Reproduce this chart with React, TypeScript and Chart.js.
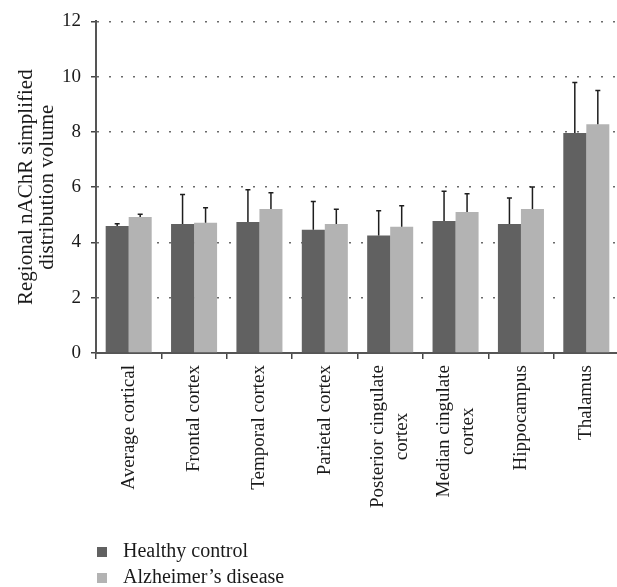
import React, { useEffect, useRef } from 'react';
import { Chart, registerables } from 'chart.js';

Chart.register(...registerables);

// ---- data ----
const categories: string[][] = [
  ['Average cortical'],
  ['Frontal cortex'],
  ['Temporal cortex'],
  ['Parietal cortex'],
  ['Posterior cingulate', 'cortex'],
  ['Median cingulate', 'cortex'],
  ['Hippocampus'],
  ['Thalamus'],
];
const seriesNames = ['Healthy control', 'Alzheimer\u2019s disease'];
const healthyValues = [4.6, 4.67, 4.74, 4.46, 4.25, 4.78, 4.67, 7.96];
const healthyErrors = [0.08, 1.07, 1.17, 1.02, 0.9, 1.07, 0.94, 1.83];
const alzheimerValues = [4.92, 4.71, 5.21, 4.67, 4.57, 5.1, 5.21, 8.28];
const alzheimerErrors = [0.1, 0.55, 0.59, 0.53, 0.76, 0.66, 0.8, 1.22];
const yTickValues = [0, 2, 4, 6, 8, 10, 12];
const yTitle = ['Regional nAChR simplified', 'distribution volume'];

const seriesColors = ['#616161', '#b3b3b3'];
const errorsBySeries = [healthyErrors, alzheimerErrors];
const FONT = '"Liberation Serif", "Times New Roman", serif';

const errorBarPlugin = {
  id: 'errorBars',
  afterDatasetsDraw(chart: any) {
    const ctx = chart.ctx;
    const ys = chart.scales.y;
    chart.data.datasets.forEach((ds: any, di: number) => {
      const meta = chart.getDatasetMeta(di);
      const errs = errorsBySeries[di];
      meta.data.forEach((bar: any, i: number) => {
        const v = ds.data[i] as number;
        const top = ys.getPixelForValue(v + errs[i]);
        ctx.save();
        ctx.strokeStyle = '#1e1e1e';
        ctx.lineWidth = 1.5;
        ctx.beginPath();
        ctx.moveTo(bar.x, bar.y);
        ctx.lineTo(bar.x, top);
        ctx.moveTo(bar.x - 2.5, top);
        ctx.lineTo(bar.x + 2.5, top);
        ctx.stroke();
        ctx.restore();
      });
    });
  },
};

const xLabelPlugin = {
  id: 'xLabels',
  afterDraw(chart: any) {
    const ctx = chart.ctx;
    const xs = chart.scales.x;
    ctx.save();
    ctx.font = `19px ${FONT}`;
    ctx.fillStyle = '#1a1a1a';
    ctx.textAlign = 'center';
    ctx.textBaseline = 'middle';
    const lineH = 24;
    const top = xs.top + 12;
    categories.forEach((lines, i) => {
      const cx = xs.getPixelForValue(i);
      const maxW = Math.max(...lines.map((l) => ctx.measureText(l).width));
      lines.forEach((l, j) => {
        const lx = cx + (j - (lines.length - 1) / 2) * lineH;
        ctx.save();
        ctx.translate(lx, top + maxW / 2);
        ctx.rotate(-Math.PI / 2);
        ctx.fillText(l, 0, 0);
        ctx.restore();
      });
    });
    ctx.restore();
  },
};

const legendPlugin = {
  id: 'stackedLegend',
  afterDraw(chart: any) {
    const ctx = chart.ctx;
    const rowY = [552, 578];
    ctx.save();
    ctx.font = `20px ${FONT}`;
    ctx.textAlign = 'left';
    ctx.textBaseline = 'middle';
    chart.data.datasets.forEach((ds: any, i: number) => {
      ctx.fillStyle = ds.backgroundColor;
      ctx.fillRect(97, rowY[i] - 5, 10, 10);
      ctx.fillStyle = '#1a1a1a';
      ctx.fillText(ds.label, 123, rowY[i]);
    });
    ctx.restore();
  },
};

export default function App() {
  const canvasRef = useRef<HTMLCanvasElement | null>(null);

  useEffect(() => {
    const canvas = canvasRef.current;
    if (!canvas) return;
    const chart = new Chart(canvas, {
      type: 'bar',
      data: {
        labels: categories.map((c) => c.join(' ')),
        datasets: [
          {
            label: seriesNames[0],
            data: healthyValues,
            backgroundColor: seriesColors[0],
            borderWidth: 0,
            categoryPercentage: 0.704,
            barPercentage: 1.0,
          },
          {
            label: seriesNames[1],
            data: alzheimerValues,
            backgroundColor: seriesColors[1],
            borderWidth: 0,
            categoryPercentage: 0.704,
            barPercentage: 1.0,
          },
        ],
      },
      options: {
        animation: false,
        responsive: false,
        devicePixelRatio: 1,
        layout: { padding: { top: 17, right: 1, bottom: 0, left: 0 } },
        plugins: {
          legend: { display: false },
          tooltip: { enabled: false },
        },
        scales: {
          x: {
            offset: true,
            grid: {
              display: true,
              drawOnChartArea: false,
              drawTicks: true,
              tickLength: 6,
              color: '#444',
              lineWidth: 1.5,
              offset: true,
            },
            border: { display: true, color: '#555', width: 2 },
            ticks: { display: false },
            afterFit(scale: any) {
              scale.height = 234;
            },
          },
          y: {
            min: 0,
            max: 12,
            afterBuildTicks(scale: any) {
              scale.ticks = yTickValues.map((v) => ({ value: v }));
            },
            grid: {
              display: true,
              drawOnChartArea: true,
              drawTicks: true,
              tickLength: 5,
              color: '#6a6a6a',
              lineWidth: 1.5,
              tickColor: '#444',
              tickWidth: 1.5,
              tickBorderDash: [],
            },
            border: { display: true, color: '#555', width: 2, dash: [2, 10] },
            ticks: {
              padding: 10,
              color: '#1a1a1a',
              font: { family: FONT, size: 19 },
            },
            title: {
              display: true,
              text: yTitle,
              color: '#1a1a1a',
              font: { family: FONT, size: 21, lineHeight: 1.0 },
              padding: { top: 16, bottom: 0 },
            },
            afterFit(scale: any) {
              scale.width = 96;
            },
          },
        },
      },
      plugins: [errorBarPlugin, xLabelPlugin, legendPlugin],
    });
    return () => chart.destroy();
  }, []);

  return (
    <div
      style={{
        position: 'absolute',
        left: 0,
        top: 0,
        width: 617,
        height: 587,
        overflow: 'hidden',
        background: '#fff',
      }}
    >
      <canvas ref={canvasRef} width={620} height={587} style={{ display: 'block' }} />
    </div>
  );
}
